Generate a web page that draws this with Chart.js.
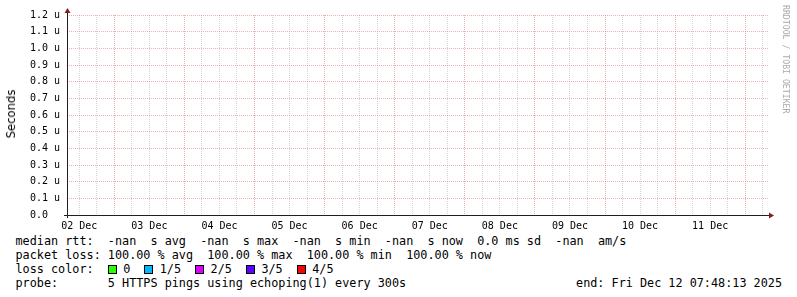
<!DOCTYPE html>
<html>
<head>
<meta charset="utf-8">
<script src="https://cdn.jsdelivr.net/npm/chart.js@4.4.1/dist/chart.umd.min.js"></script>
<style>
  body { margin: 0; background: #fff; }
  #wrap { position: relative; width: 797px; height: 297px; overflow: hidden; background: #fff; }
  #chart { position: absolute; left: 0; top: 0; }
  #ylabel {
    position: absolute; left: 11px; top: 113.5px; white-space: nowrap;
    font: 11.6px "DejaVu Sans"; color: #000;
    transform: translate(-50%, -50%) rotate(-90deg);
  }
  #mark {
    position: absolute; left: 781px; top: 5px; writing-mode: vertical-rl;
    font: 8.2px "DejaVu Sans Mono"; color: #aaa; white-space: nowrap;
  }
  .legend { position: absolute; font: 11.8px/14px "DejaVu Sans Mono"; white-space: pre; color: #000; }
  #legend { left: 15.5px; top: 233.5px; }
  #end { right: 15px; top: 275.5px; }
  .box {
    display: inline-block; width: 7px; height: 7px; border: 1px solid #000;
    vertical-align: -1.5px; margin: 0 6.5px 0 14px;
  }
</style>
</head>
<body>
<div id="wrap">
  <canvas id="chart" width="797" height="232"></canvas>
  <div id="ylabel">Seconds</div>
  <div id="mark">RRDTOOL / TOBI OETIKER</div>
  <div id="legend" class="legend"></div>
  <div id="end" class="legend"></div>
</div>
<script>
// x axis: 10 days ending at the graph end time
const endTime = Date.UTC(2025, 11, 12, 7, 48, 13);
const spanDays = 10;
const startTime = endTime - spanDays * 864e5;
const dayLabels = ['02 Dec', '03 Dec', '04 Dec', '05 Dec', '06 Dec',
                   '07 Dec', '08 Dec', '09 Dec', '10 Dec', '11 Dec'];

// y axis
const yTickValues = [0, 0.1, 0.2, 0.3, 0.4, 0.5, 0.6, 0.7, 0.8, 0.9, 1.0, 1.1, 1.2];
const yTickLabels = ['0.0  ', '0.1 u', '0.2 u', '0.3 u', '0.4 u', '0.5 u', '0.6 u',
                     '0.7 u', '0.8 u', '0.9 u', '1.0 u', '1.1 u', '1.2 u'];

// every sample in the period was unknown (100% loss), nothing to plot
const medianRtt = [];

// legend texts
const rttLine = 'median rtt:  -nan  s avg  -nan  s max  -nan  s min  -nan  s now  0.0 ms sd  -nan  am/s';
const lossLine = 'packet loss: 100.00 % avg  100.00 % max  100.00 % min  100.00 % now';
const lossLabels = ['0', '1/5', '2/5', '3/5', '4/5'];
const lossColors = ['#26ff00', '#00b8ff', '#dd00ff', '#5e00ff', '#ff0000'];
const probeLine = 'probe:       5 HTTPS pings using echoping(1) every 300s';
const endLine = 'end: Fri Dec 12 07:48:13 2025';

const minorGrid = 'rgba(150,150,150,0.4)';
const majorGrid = 'rgba(222,79,79,0.45)';
const mono = 'DejaVu Sans Mono';

function sixHourTicks() {
    const step = 6 * 3600e3;
    const out = [];
    for (let t = Math.ceil(startTime / step) * step; t < endTime; t += step) out.push({ value: t });
    return out;
}

const firstNoon = sixHourTicks().find(t => new Date(t.value).getUTCHours() === 12).value;

// rrdtool style axis lines with arrow heads
const axisArrows = {
    id: 'axisArrows',
    afterDraw(chart) {
        const { ctx, chartArea: a } = chart;
        const y = a.bottom + 0.5, x = a.left + 0.5;
        ctx.save();
        ctx.strokeStyle = '#1f1f1f';
        ctx.lineWidth = 1;
        ctx.beginPath();
        ctx.moveTo(a.left - 3, y); ctx.lineTo(a.right + 2, y);
        ctx.moveTo(x, a.bottom + 3); ctx.lineTo(x, a.top - 3);
        ctx.stroke();
        ctx.fillStyle = '#801f1f';
        ctx.beginPath();
        ctx.moveTo(a.right + 6, y); ctx.lineTo(a.right + 1, y - 3); ctx.lineTo(a.right + 1, y + 3);
        ctx.closePath(); ctx.fill();
        ctx.beginPath();
        ctx.moveTo(x, a.top - 7); ctx.lineTo(x - 3, a.top - 2); ctx.lineTo(x + 3, a.top - 2);
        ctx.closePath(); ctx.fill();
        ctx.restore();
    }
};

new Chart(document.getElementById('chart'), {
    type: 'line',
    data: {
        datasets: [{ label: 'median rtt', data: medianRtt, borderColor: '#000', pointRadius: 0 }]
    },
    options: {
        responsive: false,
        animation: false,
        layout: { padding: { top: 15, right: 29, left: 0, bottom: 0 } },
        plugins: { legend: { display: false }, tooltip: { enabled: false } },
        scales: {
            x: {
                type: 'linear',
                min: startTime,
                max: endTime,
                afterBuildTicks: s => { s.ticks = sixHourTicks(); },
                afterFit: s => { s.height = 17; },
                grid: {
                    drawTicks: false,
                    color: c => (c.tick && new Date(c.tick.value).getUTCHours() === 0) ? majorGrid : minorGrid
                },
                border: { display: false, dash: [1, 1] },
                ticks: {
                    autoSkip: false, maxRotation: 0, padding: 5,
                    font: { family: mono, size: 10 }, color: '#000',
                    callback: v => new Date(v).getUTCHours() === 12
                        ? dayLabels[Math.round((v - firstNoon) / 864e5)] : ''
                }
            },
            y: {
                min: 0,
                max: 1.2,
                afterBuildTicks: s => { s.ticks = yTickValues.map(v => ({ value: v })); },
                afterFit: s => { s.width = 67; },
                grid: { drawTicks: false, color: majorGrid },
                border: { display: false, dash: [1, 1] },
                ticks: {
                    padding: 7,
                    font: { family: mono, size: 10 }, color: '#000',
                    callback: (v, i) => yTickLabels[i]
                }
            }
        }
    },
    plugins: [axisArrows]
});

// legend block under the graph
const legend = document.getElementById('legend');
legend.textContent = rttLine + '\n' + lossLine + '\nloss color:';
lossLabels.forEach((lbl, i) => {
    const b = document.createElement('span');
    b.className = 'box';
    b.style.background = lossColors[i];
    legend.appendChild(b);
    legend.appendChild(document.createTextNode(lbl));
});
legend.appendChild(document.createTextNode('\n' + probeLine));
document.getElementById('end').textContent = endLine;
</script>
</body>
</html>
